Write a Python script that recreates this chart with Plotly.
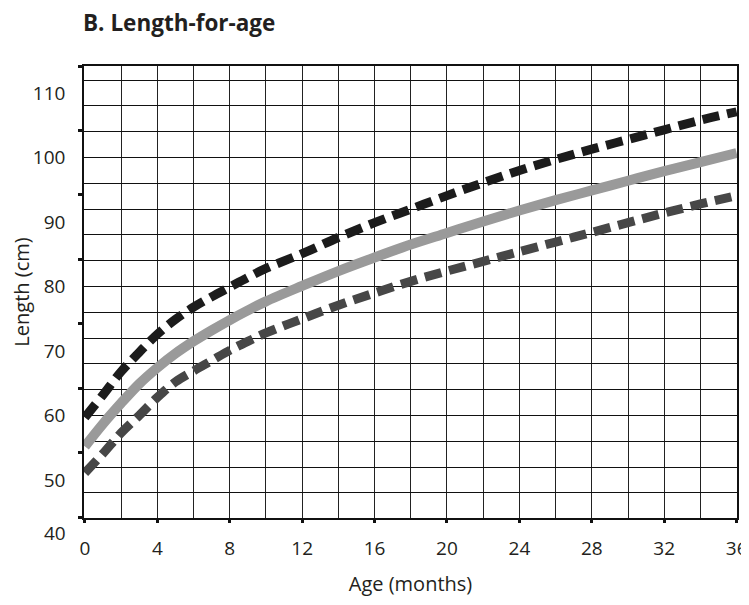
import plotly.graph_objects as go

# ---- data ----
age_months = [0, 1, 2, 3, 4, 5, 6, 7, 8, 9, 10, 12, 14, 16, 18, 20, 22, 24, 26, 28, 30, 32, 34, 36]
upper_dashed = [59.7, 63.2, 66.8, 69.8, 72.6, 74.9, 76.8, 78.4, 79.9, 81.4, 82.8, 85.1, 87.6, 89.9,
                92.0, 94.1, 96.1, 98.0, 99.7, 101.3, 102.8, 104.3, 105.8, 107.1]
median_line = [55.2, 58.7, 61.9, 64.9, 67.4, 69.6, 71.5, 73.2, 74.8, 76.3, 77.7, 80.1, 82.4, 84.5,
               86.5, 88.3, 90.1, 91.8, 93.4, 94.9, 96.4, 97.9, 99.3, 100.7]
lower_dashed = [51.1, 54.1, 57.3, 60.0, 62.8, 65.2, 66.9, 68.5, 70.1, 71.5, 72.8, 75.0, 77.1, 79.0,
                80.8, 82.4, 83.9, 85.4, 86.9, 88.4, 89.9, 91.4, 92.8, 94.1]

x_tick_vals = [0, 4, 8, 12, 16, 20, 24, 28, 32, 36]
y_tick_vals = [50, 60, 70, 80, 90, 100, 110]
y_tick_text = ["50", "60", "70", "80", "90", "100", "110"]
y_mark_vals = [44.2, 54.2, 64.2, 74.2, 84.2, 94.2, 104.2, 114.2]

title_text = "B. Length-for-age"
x_title = "Age (months)"
y_title = "Length (cm)"

# ---- style ----
FONT = "Open Sans"
TXT = "#231f20"
Y_RANGE = [44.1, 114.2]
X_RANGE = [-0.05, 36.02]
W, H = 741, 589  # page body has an 8px margin

fig = go.Figure()

fig.add_trace(go.Scatter(
    x=age_months, y=lower_dashed, mode="lines", yaxis="y",
    line=dict(color="#474747", width=9, dash="17px,8px", shape="spline"),
    showlegend=False, hoverinfo="skip"))
fig.add_trace(go.Scatter(
    x=age_months, y=upper_dashed, mode="lines", yaxis="y",
    line=dict(color="#1c1c1c", width=9, dash="17px,8px", shape="spline"),
    showlegend=False, hoverinfo="skip"))
fig.add_trace(go.Scatter(
    x=age_months, y=median_line, mode="lines", yaxis="y2",
    line=dict(color="#9a9a9a", width=10, shape="spline"),
    showlegend=False, hoverinfo="skip"))

fig.update_layout(
    width=W, height=H,
    margin=dict(l=76, r=12, t=58, b=79, autoexpand=False),
    paper_bgcolor="white", plot_bgcolor="white",
    font=dict(family=FONT, color=TXT, size=19),
    title=dict(text=title_text, x=75 / W, xref="container", xanchor="left",
               y=1 - 15 / H, yref="container", yanchor="middle",
               font=dict(family=FONT, size=22.5, weight=700, color=TXT)),
    xaxis=dict(
        range=X_RANGE, tickmode="array", tickvals=x_tick_vals,
        ticks="outside", ticklen=3, tickwidth=3, tickcolor="#111",
        showgrid=True, gridcolor="#222", gridwidth=1,
        minor=dict(dtick=2, tick0=0, showgrid=True, gridcolor="#222", gridwidth=1, ticks=""),
        showline=True, linecolor="#111", linewidth=1.5, mirror=True,
        zeroline=False, ticklabelstandoff=9, automargin=False,
        tickfont=dict(size=19, color=TXT),
        title=dict(text=x_title, font=dict(size=20, color=TXT), standoff=24),
    ),
    yaxis=dict(
        range=Y_RANGE, tickmode="array", tickvals=y_tick_vals, ticktext=y_tick_text,
        ticks="", showgrid=False,
        minor=dict(tickmode="array", tickvals=y_mark_vals, ticks="outside",
                   ticklen=4, tickwidth=3, tickcolor="#111", showgrid=False),
        showline=True, linecolor="#111", linewidth=1.5, mirror=True,
        zeroline=False, ticklabelstandoff=13, automargin=False,
        tickfont=dict(size=19, color=TXT),
        title=dict(text=y_title, font=dict(size=20, color=TXT), standoff=10),
    ),
    yaxis2=dict(
        overlaying="y", side="left", range=Y_RANGE,
        tickmode="linear", tick0=0, dtick=4, automargin=False,
        showgrid=True, gridcolor="#111", gridwidth=1,
        showticklabels=False, ticks="", showline=False, zeroline=False,
    ),
)

fig.add_annotation(text="40", xref="paper", yref="paper",
                   x=(68 - 84) / 653, y=(518 - 533) / 452,
                   xanchor="right", yanchor="middle", showarrow=False,
                   font=dict(family=FONT, size=19, color=TXT))

fig.write_html("out.html")
